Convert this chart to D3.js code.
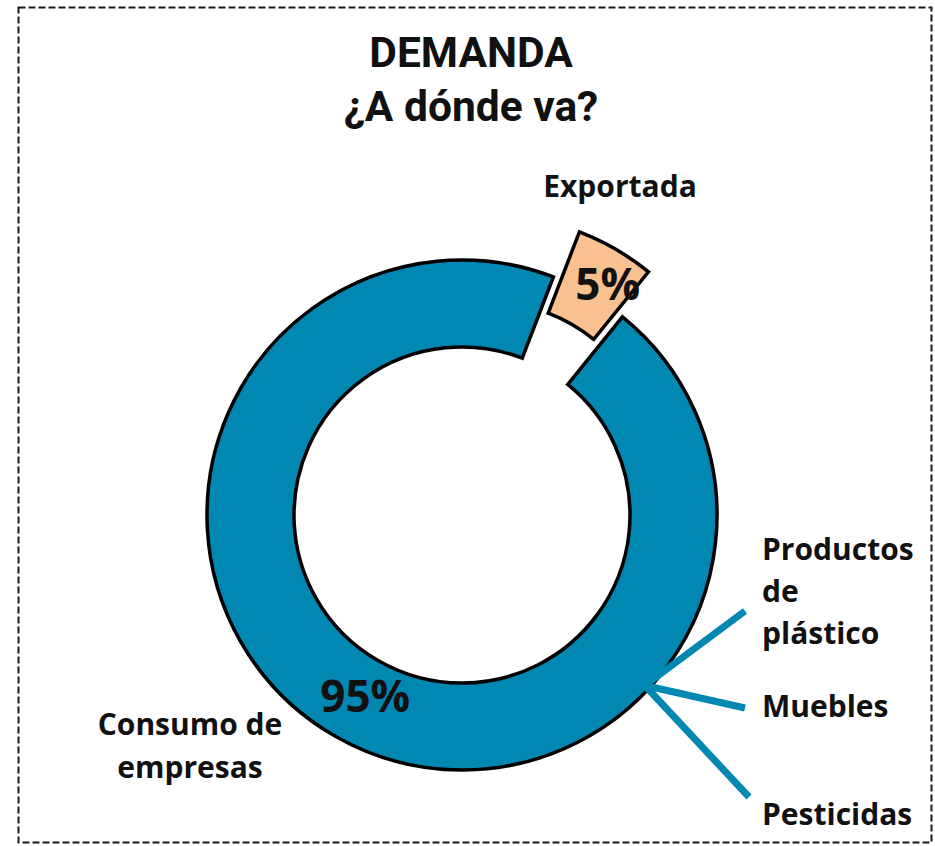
<!DOCTYPE html>
<html>
<head>
<meta charset="utf-8">
<script src="https://cdn.jsdelivr.net/npm/d3@7"></script>
<style>
  html, body { margin: 0; padding: 0; background: #fff; }
  svg { display: block; }
</style>
</head>
<body>
<svg id="chart" width="935" height="846"></svg>
<script>
// ---- data ----
const categories = ["Exportada", "Consumo de empresas"];
const values = [5, 95];
const valueLabels = ["5%", "95%"];
const categoryLabelLines = [["Exportada"], ["Consumo de", "empresas"]];
const subCategories = [["Productos", "de", "plástico"], ["Muebles"], ["Pesticidas"]];
const titleLines = ["DEMANDA", "¿A dónde va?"];

// ---- layout ----
const W = 935, H = 846;
const cx = 462, cy = 515;
const outerR = 255, innerR = 168;
const explode = [52, 0];
const colors = ["#F9C190", "#0088B3"];
const blue = "#0088B3";
const labelFont = "'Open Sans', sans-serif";
const deg = Math.PI / 180;

const svg = d3.select("#chart");

// dashed frame
svg.append("rect")
  .attr("x", 18.5).attr("y", 7.5)
  .attr("width", 913).attr("height", 835)
  .attr("fill", "none").attr("stroke", "#1a1a1a")
  .attr("stroke-width", 2).attr("stroke-dasharray", "7,3");

// title
const titleX = 471;
const title = svg.append("text")
  .attr("x", titleX).attr("y", 67)
  .attr("text-anchor", "middle")
  .attr("font-family", "Roboto, 'Liberation Sans', sans-serif")
  .attr("font-weight", "bold").attr("font-size", 42.5)
  .attr("fill", "#111");
title.selectAll("tspan").data(titleLines).join("tspan")
  .attr("x", titleX).attr("dy", (d, i) => i === 0 ? 0 : 54)
  .text(d => d);

// pie
const start = 21 * deg;
const pie = d3.pie().sort(null).startAngle(start).endAngle(start + 2 * Math.PI);
const arcs = pie(values);
const arc = d3.arc().innerRadius(innerR).outerRadius(outerR);

const g = svg.append("g").attr("transform", `translate(${cx},${cy})`);

function offset(d, i) {
  const a = (d.startAngle + d.endAngle) / 2;
  return [Math.sin(a) * explode[i], -Math.cos(a) * explode[i]];
}

const slices = g.selectAll("g.slice").data(arcs).join("g")
  .attr("class", "slice")
  .attr("transform", (d, i) => { const o = offset(d, i); return `translate(${o[0]},${o[1]})`; });

slices.append("path")
  .attr("d", arc)
  .attr("fill", (d, i) => colors[i])
  .attr("stroke", "#000").attr("stroke-width", 3.5)
  .attr("stroke-linejoin", "miter");

// leader lines from the ring to sub-category labels
const leaderAngle = 133 * deg;
const leaderStart = [Math.sin(leaderAngle) * (outerR - 5), -Math.cos(leaderAngle) * (outerR - 5)];
const subX = 762;
const subBaselines = [560, 717, 825];
const subLineGap = 42;
const leaderEnds = [[745, 611], [745, 708], [749, 797]];
g.selectAll("line.leader").data(subCategories).join("line")
  .attr("class", "leader")
  .attr("x1", leaderStart[0]).attr("y1", leaderStart[1])
  .attr("x2", (d, i) => leaderEnds[i][0] - cx)
  .attr("y2", (d, i) => leaderEnds[i][1] - cy)
  .attr("stroke", blue).attr("stroke-width", 7);

// value labels inside slices
const labelShift = [[14, -4], [9, -3]];
slices.append("text")
  .attr("transform", (d, i) => {
    const c = arc.centroid(d);
    return `translate(${c[0] + labelShift[i][0]},${c[1] + labelShift[i][1]})`;
  })
  .attr("text-anchor", "middle").attr("dominant-baseline", "central")
  .attr("font-family", labelFont).attr("font-weight", "bold")
  .attr("font-size", 44).attr("fill", "#111")
  .text((d, i) => valueLabels[i]);

// category labels
const catPos = [[620, 197], [190, 735]];
categoryLabelLines.forEach((lines, i) => {
  const t = svg.append("text")
    .attr("text-anchor", "middle")
    .attr("font-family", labelFont).attr("font-weight", "bold")
    .attr("font-size", 30).attr("fill", "#111");
  t.selectAll("tspan").data(lines).join("tspan")
    .attr("x", catPos[i][0])
    .attr("y", (d, j) => catPos[i][1] + j * 43)
    .text(d => d);
});

// sub-category labels
subCategories.forEach((lines, i) => {
  const t = svg.append("text")
    .attr("font-family", labelFont).attr("font-weight", "bold")
    .attr("font-size", 30).attr("fill", "#111");
  t.selectAll("tspan").data(lines).join("tspan")
    .attr("x", subX)
    .attr("y", (d, j) => subBaselines[i] + j * subLineGap)
    .text(d => d);
});
</script>
</body>
</html>
